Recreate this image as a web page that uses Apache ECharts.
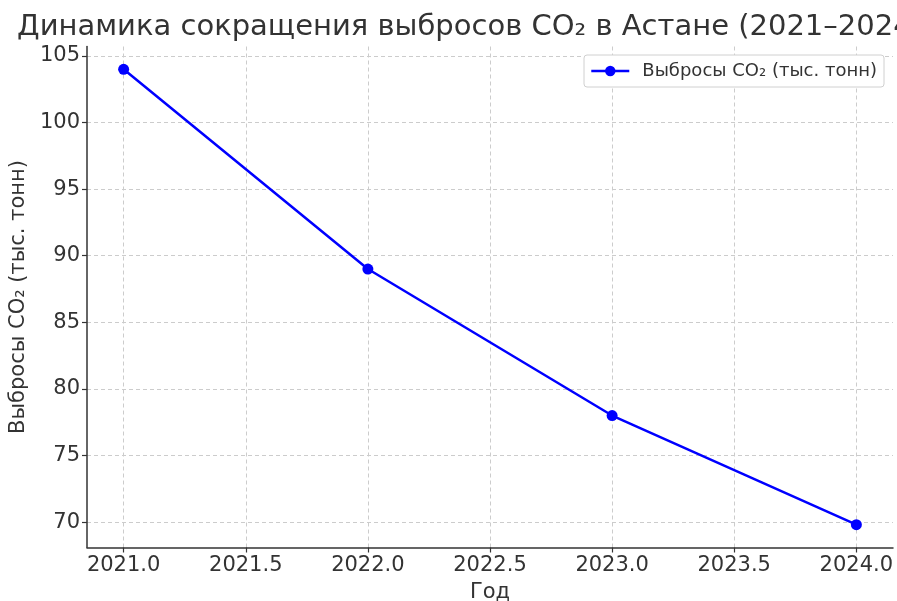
<!DOCTYPE html>
<html><head><meta charset="utf-8">
<script src="https://cdn.jsdelivr.net/npm/echarts@6/dist/echarts.min.js"></script>
<style>html,body{margin:0;padding:0;background:#fff}#c{width:897px;height:601px}</style>
</head><body><div id="c"></div>
<script>
const years = [2021, 2022, 2023, 2024];
const emissions = [104, 89, 78, 69.8];
const xTicks = [2021.0, 2021.5, 2022.0, 2022.5, 2023.0, 2023.5, 2024.0];
const yTicks = [70, 75, 80, 85, 90, 95, 100, 105];
const titleText = 'Динамика сокращения выбросов CO₂ в Астане (2021–2024)';
const seriesName = 'Выбросы CO₂ (тыс. тонн)';

const font = 'DejaVu Sans';
const txt = '#333333';
const xmin = 2021 - 0.15, xmax = 2024 + 0.15;
const ymin0 = Math.min(...emissions), ymax0 = Math.max(...emissions);
const ypad = (ymax0 - ymin0) * 0.05;

const chart = echarts.init(document.getElementById('c'), null, {renderer: 'canvas'});
chart.setOption({
  animation: false,
  backgroundColor: '#fff',
  title: {
    text: titleText, left: 12, top: 8,
    textStyle: {fontFamily: font, fontSize: 29, fontWeight: 'normal', color: txt}
  },
  legend: {
    data: [seriesName], right: 13, top: 55,
    itemWidth: 38, itemHeight: 13, itemGap: 10,
    padding: [7, 7, 7, 6],
    lineStyle: {width: 2.5},
    borderColor: '#d0d0d0', borderWidth: 1, borderRadius: 3, backgroundColor: '#fff',
    textStyle: {fontFamily: font, fontSize: 18, color: txt, padding: [0, 0, 0, 8]}
  },
  grid: {left: 87, right: 4, top: 46.5, bottom: 53.5, containLabel: false, outerBoundsMode: 'none'},
  xAxis: {
    type: 'value', min: xmin, max: xmax,
    name: 'Год', nameLocation: 'middle', nameGap: 35,
    nameTextStyle: {fontFamily: font, fontSize: 21, color: txt},
    axisLine: {show: true, lineStyle: {color: '#333', width: 1.5}},
    axisTick: {show: true, length: 5, lineStyle: {color: '#333', width: 1.2}, customValues: xTicks},
    axisLabel: {fontFamily: font, fontSize: 21, color: txt, margin: 8, customValues: xTicks,
      formatter: v => v.toFixed(1)},
    splitLine: {show: true, lineStyle: {color: '#cccccc', type: [4, 3], width: 1}}
  },
  yAxis: {
    type: 'value', min: ymin0 - ypad, max: ymax0 + ypad,
    name: seriesName, nameLocation: 'middle', nameGap: 54, nameRotate: 90,
    nameTextStyle: {fontFamily: font, fontSize: 21, color: txt},
    axisLine: {show: true, lineStyle: {color: '#333', width: 1.5}},
    axisTick: {show: true, length: 5, lineStyle: {color: '#333', width: 1.2}, customValues: yTicks},
    axisLabel: {fontFamily: font, fontSize: 21, color: txt, margin: 7, customValues: yTicks},
    splitLine: {show: true, lineStyle: {color: '#cccccc', type: [4, 3], width: 1}}
  },
  series: [{
    name: seriesName, type: 'line',
    data: years.map((y, i) => [y, emissions[i]]),
    symbol: 'circle', symbolSize: 11,
    lineStyle: {color: '#0000ff', width: 2.5},
    itemStyle: {color: '#0000ff'},
    z: 5
  }]
});
</script></body></html>
